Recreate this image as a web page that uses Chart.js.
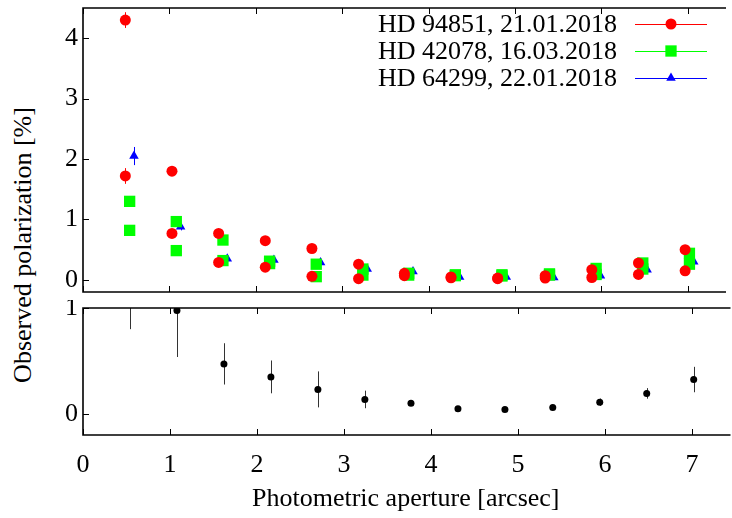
<!DOCTYPE html>
<html><head><meta charset="utf-8">
<script src="https://cdn.jsdelivr.net/npm/chart.js@4.4.1/dist/chart.umd.min.js"></script>
<style>
html,body{margin:0;padding:0;background:#fff;}
#wrap{position:relative;width:732px;height:518px;overflow:hidden;background:#fff;}
#ytitle{position:absolute;left:23px;top:245px;transform:translate(-50%,-50%) rotate(-90deg);font-size:26px;font-family:"Liberation Serif","LiberationSerif","Noto Serif","DejaVu Serif","FreeSerif","Tinos","Times New Roman",Times,serif;white-space:nowrap;color:#000;}
</style></head><body>
<div id="wrap">
<div id="ytitle">Observed polarization [%]</div>
<canvas id="top" width="732" height="300" style="position:absolute;left:0;top:0"></canvas>
<canvas id="bot" width="732" height="218" style="position:absolute;left:0;top:300px"></canvas>
</div>
<script>
// ---- data ----
const xTickLabels = [0, 1, 2, 3, 4, 5, 6, 7];
const topYTicks = [0, 1, 2, 3, 4];
const botYTicks = [0, 1];
const seriesLabels = ['HD 94851, 21.01.2018', 'HD 42078, 16.03.2018', 'HD 64299, 22.01.2018'];
const xTitle = 'Photometric aperture [arcsec]';

const apertureRed   = [0.49, 1.03, 1.57, 2.11, 2.65, 3.19, 3.72, 4.26, 4.80, 5.35, 5.89, 6.43, 6.97];
const apertureGreen = [0.54, 1.08, 1.62, 2.16, 2.70, 3.24, 3.77, 4.31, 4.85, 5.40, 5.94, 6.48, 7.02];
const apertureBlue  = [0.59, 1.13, 1.67, 2.21, 2.75, 3.29, 3.82, 4.36, 4.90, 5.45, 5.99, 6.53, 7.07];

const red1    = [4.30, 1.80, 0.77, 0.65, 0.52, 0.26, 0.11, 0.05, 0.03, 0.07, 0.17, 0.28, 0.50];
const red1Err = [0.13, 0.04, 0.03, 0.02, 0.02, 0.02, 0.02, 0.02, 0.02, 0.02, 0.02, 0.02, 0.03];
const red2    = [1.72, 0.77, 0.29, 0.21, 0.06, 0.02, 0.07, 0.035, 0.02, 0.03, 0.04, 0.09, 0.15];
const red2Err = [0.13, 0.04, 0.03, 0.02, 0.02, 0.02, 0.02, 0.02, 0.02, 0.02, 0.02, 0.02, 0.03];

const green1    = [1.30, 0.965, 0.66, 0.31, 0.26, 0.18, 0.11, 0.085, 0.085, 0.10, 0.19, 0.28, 0.44];
const green1Err = [0.05, 0.04, 0.03, 0.02, 0.02, 0.02, 0.02, 0.02, 0.02, 0.02, 0.02, 0.02, 0.03];
const green2    = [0.82, 0.485, 0.32, 0.27, 0.054, 0.08, 0.08, 0.07, 0.065, 0.08, 0.09, 0.18, 0.26];
const green2Err = [0.05, 0.03, 0.03, 0.02, 0.02, 0.02, 0.02, 0.02, 0.02, 0.02, 0.02, 0.02, 0.03];

const blue1    = [2.05, 0.88, 0.35, 0.33, 0.29, 0.18, 0.14, 0.05, 0.05, 0.04, 0.07, 0.17, 0.30];
const blue1Err = [0.15, 0.06, 0.03, 0.02, 0.02, 0.02, 0.02, 0.02, 0.02, 0.02, 0.02, 0.02, 0.03];

const ratioX   = [0.54, 1.08, 1.62, 2.16, 2.70, 3.24, 3.77, 4.31, 4.85, 5.40, 5.94, 6.48, 7.02];
const ratio    = [1.40, 0.977, 0.472, 0.349, 0.231, 0.136, 0.101, 0.048, 0.041, 0.06, 0.11, 0.193, 0.324];
const ratioErr = [0.60, 0.44, 0.195, 0.155, 0.17, 0.083, 0.01, 0.01, 0.01, 0.02, 0.035, 0.05, 0.12];

// ---- helpers ----
const FONT = '"Liberation Serif", "LiberationSerif", "Noto Serif", "DejaVu Serif", "FreeSerif", "Tinos", "Times New Roman", Times, serif';
Chart.defaults.font.family = FONT;
function pts(xs, ys) { return xs.map((x, i) => ({x: x, y: ys[i]})); }

const errorBars = {
  id: 'errorBars',
  beforeDatasetsDraw(chart) {
    const {ctx, chartArea: a, scales} = chart;
    ctx.save();
    ctx.beginPath(); ctx.rect(a.left, a.top, a.right - a.left, a.bottom - a.top); ctx.clip();
    chart.data.datasets.forEach(ds => {
      if (!ds.yErr) return;
      ctx.strokeStyle = ds.errColor || ds.backgroundColor;
      ctx.lineWidth = 1;
      ds.data.forEach((p, i) => {
        const e = ds.yErr[i];
        const x = Math.round(scales.x.getPixelForValue(p.x)) + 0.5;
        ctx.beginPath();
        ctx.moveTo(x, scales.y.getPixelForValue(p.y - e));
        ctx.lineTo(x, scales.y.getPixelForValue(p.y + e));
        ctx.stroke();
      });
    });
    ctx.restore();
  }
};

const frame = {
  id: 'frame',
  afterDraw(chart, args, opts) {
    const {ctx, chartArea: a, scales} = chart;
    ctx.save();
    ctx.strokeStyle = '#000';
    ctx.lineWidth = 1;
    const L = 6;
    xTickLabels.forEach(v => {
      const x = Math.round(scales.x.getPixelForValue(v)) + 0.5;
      ctx.beginPath();
      ctx.moveTo(x, a.top); ctx.lineTo(x, a.top + L);
      ctx.moveTo(x, a.bottom); ctx.lineTo(x, a.bottom - L);
      ctx.stroke();
    });
    (opts.yTicks || []).forEach(v => {
      const y = Math.round(scales.y.getPixelForValue(v)) + 0.5;
      ctx.beginPath();
      ctx.moveTo(a.left, y); ctx.lineTo(a.left + L, y);
      ctx.stroke();
    });
    ctx.lineWidth = 1.6;
    ctx.beginPath();
    ctx.moveTo(a.right + 2, a.top); ctx.lineTo(a.left, a.top);
    ctx.lineTo(a.left, a.bottom); ctx.lineTo(a.right + 2, a.bottom);
    ctx.stroke();
    ctx.restore();
  }
};

const legendPlugin = {
  id: 'gpLegend',
  afterDraw(chart) {
    const {ctx} = chart;
    const rows = [24, 51, 78];
    const styles = [
      {color: '#ff0000', pointStyle: 'circle', radius: 5.5},
      {color: '#00ff00', pointStyle: 'rect', radius: 8},
      {color: '#0000ff', pointStyle: 'triangle', radius: 5.5}
    ];
    ctx.save();
    ctx.font = '26px ' + FONT;
    ctx.textAlign = 'right';
    ctx.textBaseline = 'middle';
    seriesLabels.forEach((t, i) => {
      const y = rows[i];
      ctx.fillStyle = '#000';
      ctx.fillText(t, 617, y + 1);
      ctx.strokeStyle = styles[i].color;
      ctx.lineWidth = 1;
      ctx.beginPath(); ctx.moveTo(635, y + 0.5); ctx.lineTo(707, y + 0.5); ctx.stroke();
      ctx.fillStyle = styles[i].color;
      Chart.helpers.drawPoint(ctx, {pointStyle: styles[i].pointStyle, radius: styles[i].radius, rotation: 0, borderWidth: 0}, 671, y);
    });
    ctx.restore();
  }
};

function ds(label, xs, ys, errs, color, style, r) {
  return {label, data: pts(xs, ys), yErr: errs, backgroundColor: color, borderColor: color,
    pointStyle: style, pointRadius: r, pointHoverRadius: r, borderWidth: 0, showLine: false};
}

function noPadX(s) { s.paddingLeft = 0; s.paddingRight = 0; }
function fitY(s) { s.width = 83; s.paddingTop = 0; s.paddingBottom = 0; }

const xScaleBase = {type: 'linear', min: 0, max: 7.42,
  afterBuildTicks: s => { s.ticks = xTickLabels.map(v => ({value: v})); },
  grid: {display: false, drawTicks: false}, border: {display: false}};

new Chart(document.getElementById('top'), {
  type: 'scatter',
  data: {datasets: [
    ds(seriesLabels[0], apertureRed, red1, red1Err, '#ff0000', 'circle', 5.5),
    ds(seriesLabels[0], apertureRed, red2, red2Err, '#ff0000', 'circle', 5.5),
    ds(seriesLabels[1], apertureGreen, green1, green1Err, '#00ff00', 'rect', 8),
    ds(seriesLabels[1], apertureGreen, green2, green2Err, '#00ff00', 'rect', 8),
    ds(seriesLabels[2], apertureBlue, blue1, blue1Err, '#0000ff', 'triangle', 5.5)
  ]},
  options: {
    responsive: false, animation: false, devicePixelRatio: 1,
    layout: {padding: {top: 4, right: 0, bottom: 2, left: 0}},
    plugins: {legend: {display: false}, tooltip: {enabled: false}, frame: {yTicks: topYTicks}},
    scales: {
      x: Object.assign({}, xScaleBase, {display: false, afterFit: noPadX}),
      y: {type: 'linear', min: -0.2, max: 4.5,
        afterBuildTicks: s => { s.ticks = topYTicks.map(v => ({value: v})); },
        afterFit: fitY,
        grid: {display: false, drawTicks: false}, border: {display: false},
        ticks: {color: '#000', padding: 5, font: {family: FONT, size: 26}}}
    }
  },
  plugins: [errorBars, frame, legendPlugin]
});

new Chart(document.getElementById('bot'), {
  type: 'scatter',
  data: {datasets: [
    {label: 'ratio', data: pts(ratioX, ratio), yErr: ratioErr, errColor: '#333', backgroundColor: '#000',
     borderColor: '#000', pointRadius: 3.5, pointHoverRadius: 3.5, borderWidth: 0, showLine: false}
  ]},
  options: {
    responsive: false, animation: false, devicePixelRatio: 1,
    layout: {padding: {top: 8, right: 0, bottom: 0, left: 0}},
    plugins: {legend: {display: false}, tooltip: {enabled: false}, frame: {yTicks: botYTicks}},
    scales: {
      x: Object.assign({}, xScaleBase, {
        afterFit: s => { s.height = 83; noPadX(s); },
        ticks: {color: '#000', padding: 15, font: {family: FONT, size: 26}},
        title: {display: true, text: xTitle, color: '#000', padding: {top: 0, bottom: 3}, font: {family: FONT, size: 26}}
      }),
      y: {type: 'linear', min: -0.2, max: 1.0,
        afterBuildTicks: s => { s.ticks = botYTicks.map(v => ({value: v})); },
        afterFit: fitY,
        grid: {display: false, drawTicks: false}, border: {display: false},
        ticks: {color: '#000', padding: 5, font: {family: FONT, size: 26}}}
    }
  },
  plugins: [errorBars, frame]
});
</script>
</body></html>
